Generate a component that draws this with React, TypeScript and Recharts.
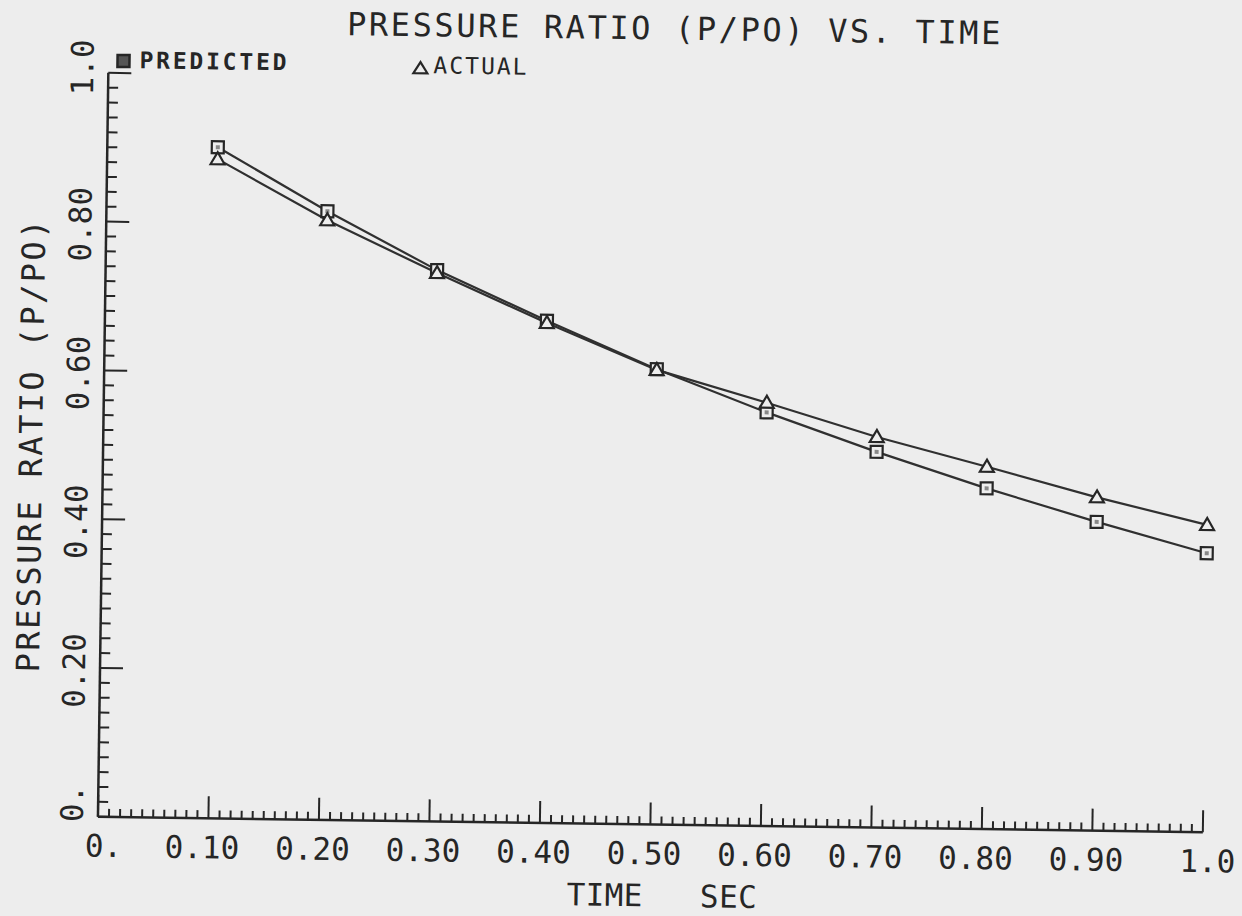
import React from 'react';
import { LineChart, Line, XAxis, YAxis } from 'recharts';

// time (sec) and the two pressure ratio curves
const time = [0.1, 0.2, 0.3, 0.4, 0.5, 0.6, 0.7, 0.8, 0.9, 1.0];
const predicted = [0.902, 0.818, 0.741, 0.675, 0.612, 0.556, 0.505, 0.458, 0.415, 0.375];
const actual = [0.886, 0.806, 0.737, 0.672, 0.611, 0.569, 0.525, 0.487, 0.448, 0.413];

const xTickLabels = ['0.', '0.10', '0.20', '0.30', '0.40', '0.50', '0.60', '0.70', '0.80', '0.90', '1.0'];
const yTickLabels = ['0.', '0.20', '0.40', '0.60', '0.80', '1.0'];

// tick marks: every 0.01 on x, every 0.02 on y
const xTicks = Array.from({ length: 101 }, (_, i) => i / 100);
const yTicks = Array.from({ length: 51 }, (_, i) => i / 50);

const data = time.map((t, i) => ({ t, predicted: predicted[i], actual: actual[i] }));

const BG = '#ededed';
const INK = '#262626';
const LINE = '#303030';
const FONT = '"DejaVu Sans Mono", monospace';

function XTick({ x, y, payload }: any) {
  const n = Math.round(payload.value * 100);
  const major = n % 10 === 0;
  const label = major ? xTickLabels[n / 10] : null;
  const dx = n === 0 ? 6 : n === 100 ? 5 : -6;
  return (
    <g>
      <line x1={x} y1={y} x2={x} y2={y - (major ? 22 : 8)} stroke={INK} strokeWidth={2} />
      {label && (
        <text x={x + dx} y={y + 40} textAnchor="middle" fontFamily={FONT} fontSize={31} fill={INK}>
          {label}
        </text>
      )}
    </g>
  );
}

function YTick({ x, y, payload }: any) {
  const n = Math.round(payload.value * 50);
  const major = n % 10 === 0;
  const label = major ? yTickLabels[n / 10] : null;
  const dy = n === 0 ? -13 : n === 50 ? -5 : 3;
  const tx = x - 15;
  const ty = y + dy;
  return (
    <g>
      <line x1={x} y1={y} x2={x + (major ? 23 : 10)} y2={y} stroke={INK} strokeWidth={2} />
      {label && (
        <text
          x={tx}
          y={ty}
          transform={`rotate(-90 ${tx} ${ty})`}
          textAnchor="middle"
          fontFamily={FONT}
          fontSize={31}
          fill={INK}
        >
          {label}
        </text>
      )}
    </g>
  );
}

function SquareDot({ cx, cy }: any) {
  if (cx == null || cy == null) return null;
  return (
    <g>
      <rect x={cx - 6} y={cy - 6} width={12} height={12} fill={BG} stroke={INK} strokeWidth={2.2} />
      <rect x={cx - 2} y={cy - 2} width={4} height={4} fill="#888" />
    </g>
  );
}

function TriangleDot({ cx, cy }: any) {
  if (cx == null || cy == null) return null;
  return (
    <polygon
      points={`${cx - 7},${cy + 5} ${cx + 7},${cy + 5} ${cx},${cy - 7}`}
      fill={BG}
      stroke={INK}
      strokeWidth={2.2}
    />
  );
}

export default function App() {
  return (
    <div style={{ position: 'absolute', left: 0, top: 0, width: 1242, height: 916, background: BG, overflow: 'hidden' }}>
      {/* the scanned plot sits slightly tilted */}
      <div
        style={{
          position: 'absolute',
          left: 0,
          top: 0,
          width: 1242,
          height: 916,
          transform: 'rotate(0.8deg)',
          transformOrigin: '621px 458px',
        }}
      >
        <LineChart width={1242} height={916} data={data} margin={{ top: 80, right: 34, bottom: 0, left: 0 }}>
          <XAxis
            type="number"
            dataKey="t"
            domain={[0, 1]}
            ticks={xTicks}
            interval={0}
            height={92}
            tickSize={0}
            tickMargin={0}
            tick={(p: any) => <XTick {...p} />}
            axisLine={{ stroke: INK, strokeWidth: 2.5 }}
            tickLine={false}
          />
          <YAxis
            type="number"
            domain={[0, 1]}
            ticks={yTicks}
            interval={0}
            width={103}
            tickSize={0}
            tickMargin={0}
            tick={(p: any) => <YTick {...p} />}
            axisLine={{ stroke: INK, strokeWidth: 2.5 }}
            tickLine={false}
          />
          <Line
            type="linear"
            dataKey="predicted"
            stroke={LINE}
            strokeWidth={2.2}
            dot={(p: any) => <SquareDot key={`p${p.index}`} {...p} />}
            isAnimationActive={false}
          />
          <Line
            type="linear"
            dataKey="actual"
            stroke={LINE}
            strokeWidth={2.2}
            dot={(p: any) => <TriangleDot key={`a${p.index}`} {...p} />}
            isAnimationActive={false}
          />
        </LineChart>
        <svg width={1242} height={916} style={{ position: 'absolute', left: 0, top: 0, pointerEvents: 'none' }}>
          <text x={669} y={39} textAnchor="middle" fontFamily={FONT} fontSize={32} letterSpacing={2.6} fill={INK}>
            PRESSURE RATIO (P/PO) VS. TIME
          </text>
          <rect x={112} y={62} width={12} height={12} fill="#555" stroke={INK} strokeWidth={2.5} />
          <text x={134} y={75} fontFamily={FONT} fontSize={23} fontWeight="bold" letterSpacing={2.8} fill={INK}>
            PREDICTED
          </text>
          <polygon points="408,76 422,76 415,65" fill={BG} stroke={INK} strokeWidth={2.2} />
          <text x={428} y={76} fontFamily={FONT} fontSize={23} letterSpacing={2} fill={INK}>
            ACTUAL
          </text>
          <text
            x={42}
            y={453}
            transform="rotate(-90 42 453)"
            textAnchor="middle"
            fontFamily={FONT}
            fontSize={32}
            letterSpacing={2.4}
            fill={INK}
          >
            PRESSURE RATIO (P/PO)
          </text>
          <text x={668} y={906} textAnchor="middle" fontFamily={FONT} fontSize={31} letterSpacing={0.4} fill={INK} xmlSpace="preserve">
            {'TIME   SEC'}
          </text>
        </svg>
      </div>
    </div>
  );
}
